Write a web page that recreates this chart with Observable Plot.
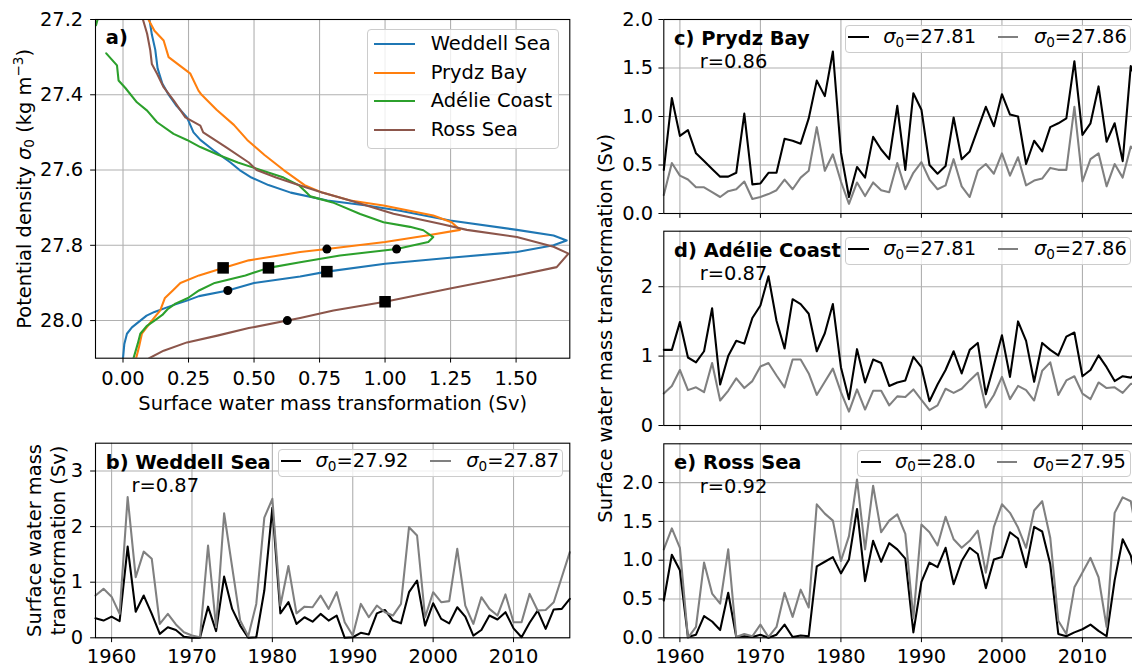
<!DOCTYPE html>
<html>
<head>
<meta charset="utf-8">
<script src="https://cdn.jsdelivr.net/npm/d3@7"></script>
<script src="https://cdn.jsdelivr.net/npm/@observablehq/plot@0.6"></script>
<style>
html, body { margin: 0; padding: 0; background: #fff; overflow: hidden; }
#fig { position: relative; width: 1132px; height: 667px; overflow: hidden; font-family: "DejaVu Sans"; }
#fig svg { position: absolute; left: 0; top: 0; }
.lg { position: absolute; box-sizing: border-box; background: rgba(255,255,255,0.8); border: 1px solid #cccccc; border-radius: 4px; font: 19.44px "DejaVu Sans"; color: #000; }
.lg .sw { position: absolute; height: 2px; }
.lg .tx { position: absolute; white-space: nowrap; line-height: 22px; height: 22px; }
.sub { font-size: 0.7em; position: relative; top: 0.24em; }
</style>
</head>
<body>
<div id="fig"></div>
<script>
// ---------- data ----------
const years = [1958,1959,1960,1961,1962,1963,1964,1965,1966,1967,
  1968,1969,1970,1971,1972,1973,1974,1975,1976,1977,
  1978,1979,1980,1981,1982,1983,1984,1985,1986,1987,
  1988,1989,1990,1991,1992,1993,1994,1995,1996,1997,
  1998,1999,2000,2001,2002,2003,2004,2005,2006,2007,
  2008,2009,2010,2011,2012,2013,2014,2015,2016,2017];

// b) Weddell Sea
const weddell2792 = [0.35,0.31,0.38,0.30,1.64,0.47,0.76,0.43,0.07,0.19,
  0.14,0.02,0.00,0.00,0.56,0.12,1.10,0.52,0.22,0.00,
  0.01,0.85,2.34,0.44,0.64,0.25,0.37,0.29,0.43,0.31,
  0.40,0.00,0.01,0.09,0.06,0.44,0.50,0.31,0.26,0.82,
  1.03,0.22,0.62,0.34,0.26,0.55,0.38,0.04,0.14,0.40,
  0.33,0.46,0.17,0.01,0.27,0.49,0.16,0.51,0.52,0.70];
const weddell2787 = [0.76,0.88,0.74,0.43,2.53,1.09,1.55,1.42,0.25,0.43,
  0.24,0.10,0.04,0.01,1.66,0.19,2.24,1.27,0.31,0.03,
  0.61,2.16,2.50,0.58,1.29,0.44,0.56,0.55,0.76,0.52,
  0.82,0.28,0.04,0.61,0.37,0.58,0.46,0.40,0.61,1.99,
  1.84,0.37,0.82,0.64,0.66,1.60,0.58,0.25,0.73,0.52,
  0.40,0.78,0.28,0.28,0.79,0.49,0.50,0.64,1.09,1.54];
// c) Prydz Bay
const prydz2781 = [0.45,1.19,0.80,0.86,0.62,0.54,0.46,0.38,0.38,0.42,
  1.03,0.30,0.31,0.42,0.42,0.77,0.75,0.72,0.98,1.37,
  1.21,1.67,0.63,0.17,0.48,0.37,0.79,0.66,0.56,1.11,
  0.45,1.24,1.07,0.50,0.41,0.49,0.99,0.56,0.64,0.87,
  1.10,0.90,1.23,1.02,1.00,0.51,0.75,0.64,0.89,0.93,
  0.98,1.57,0.81,0.93,1.31,0.74,0.93,0.54,1.52,1.30];
const prydz2786 = [0.19,0.52,0.39,0.35,0.27,0.27,0.22,0.17,0.23,0.25,
  0.33,0.15,0.17,0.20,0.24,0.35,0.25,0.37,0.44,0.89,
  0.44,0.61,0.33,0.10,0.32,0.18,0.32,0.24,0.22,0.52,
  0.25,0.42,0.53,0.35,0.25,0.29,0.56,0.28,0.17,0.44,
  0.51,0.41,0.62,0.39,0.58,0.29,0.34,0.36,0.47,0.45,
  0.45,1.10,0.33,0.56,0.62,0.28,0.51,0.37,0.69,0.60];
// d) Adélie Coast
const adelie2781 = [1.09,1.09,1.49,0.98,0.91,1.07,1.69,0.59,1.00,1.22,
  1.18,1.55,1.73,2.15,1.51,1.11,1.82,1.75,1.61,1.07,
  1.33,1.75,0.84,0.38,1.10,0.62,0.95,0.90,0.57,0.62,
  0.65,0.99,0.84,0.35,0.59,0.80,1.07,0.75,1.09,1.19,
  0.45,0.87,1.30,0.70,1.50,1.22,0.63,1.19,1.09,1.01,
  1.28,1.34,0.71,0.80,1.01,0.84,0.64,0.71,0.69,0.77];
const adelie2786 = [0.46,0.57,0.80,0.51,0.55,0.48,0.90,0.36,0.50,0.68,
  0.54,0.64,0.85,0.90,0.72,0.55,0.95,0.95,0.75,0.44,
  0.63,0.82,0.48,0.20,0.52,0.23,0.50,0.50,0.29,0.42,
  0.41,0.52,0.37,0.22,0.29,0.53,0.47,0.53,0.65,0.76,
  0.26,0.44,0.70,0.38,0.57,0.51,0.36,0.79,0.91,0.44,
  0.65,0.71,0.46,0.38,0.62,0.54,0.55,0.47,0.60,0.60];
// e) Ross Sea
const ross2800 = [0.48,1.07,0.87,0.01,0.04,0.28,0.21,0.10,0.58,0.01,
  0.02,0.01,0.04,0.00,0.04,0.17,0.01,0.03,0.02,0.92,
  0.98,1.04,0.83,1.01,1.66,0.73,1.25,0.98,1.22,1.14,
  1.02,0.07,0.72,0.97,0.91,1.16,0.69,0.99,1.16,1.08,
  0.64,1.01,1.04,1.36,1.28,0.91,1.43,1.37,0.95,0.05,
  0.02,0.07,0.11,0.17,0.09,0.02,0.74,1.27,1.06,0.60];
const ross2795 = [1.14,1.41,1.16,0.00,0.14,0.97,0.57,0.44,1.14,0.01,
  0.05,0.02,0.17,0.01,0.14,0.58,0.27,0.62,0.39,1.72,
  1.60,1.51,0.99,1.31,2.04,1.14,1.96,1.36,1.51,1.59,
  1.34,0.25,1.46,1.36,1.19,1.56,1.27,1.16,1.25,1.38,
  0.84,1.43,1.72,1.61,1.42,1.16,1.64,1.76,1.29,0.22,
  0.05,0.65,0.84,1.03,0.78,0.14,1.61,1.81,1.76,1.20];

// a) profiles: [transformation (Sv), sigma0]
const profileWeddell = [[0.101,27.20],[0.110,27.24],[0.123,27.28],[0.132,27.33],[0.150,27.37],[0.174,27.40],[0.205,27.43],[0.244,27.46],[0.269,27.50],[0.295,27.52],[0.35,27.55],[0.41,27.58],[0.445,27.60],[0.49,27.62],[0.555,27.64],[0.64,27.66],[0.78,27.681],[0.93,27.694],[1.057,27.708],[1.248,27.734],[1.503,27.759],[1.643,27.774],[1.693,27.787],[1.643,27.80],[1.503,27.818],[1.248,27.833],[1.0,27.849],[0.778,27.87],[0.676,27.883],[0.50,27.90],[0.40,27.92],[0.29,27.935],[0.244,27.947],[0.20,27.957],[0.168,27.965],[0.12,27.977],[0.09,27.987],[0.066,28.0],[0.034,28.018],[0.015,28.035],[0.005,28.062],[0.0,28.10]];
const profilePrydz = [[0.097,27.20],[0.12,27.23],[0.155,27.256],[0.174,27.30],[0.257,27.344],[0.288,27.389],[0.30,27.40],[0.357,27.44],[0.423,27.48],[0.474,27.52],[0.54,27.56],[0.613,27.60],[0.693,27.64],[0.76,27.66],[0.867,27.681],[0.994,27.694],[1.184,27.721],[1.254,27.739],[1.286,27.759],[1.159,27.774],[1.0,27.791],[0.778,27.81],[0.676,27.818],[0.48,27.84],[0.382,27.86],[0.29,27.88],[0.219,27.90],[0.19,27.92],[0.16,27.94],[0.142,27.973],[0.11,28.0],[0.072,28.035],[0.061,28.07],[0.05,28.10]];
const profileAdelie = [[-0.097,27.20],[-0.103,27.215],[-0.13,27.23],[null,null],[-0.064,27.29],[-0.023,27.322],[-0.017,27.362],[0.009,27.382],[0.053,27.42],[0.092,27.442],[0.13,27.473],[0.193,27.504],[0.244,27.52],[0.295,27.539],[0.365,27.56],[0.438,27.58],[0.525,27.60],[0.613,27.62],[0.67,27.64],[0.70,27.66],[0.715,27.67],[0.80,27.686],[0.905,27.717],[0.994,27.739],[1.095,27.751],[1.146,27.76],[1.184,27.778],[1.165,27.791],[1.044,27.81],[0.828,27.827],[0.676,27.845],[0.555,27.86],[0.467,27.88],[0.35,27.90],[0.29,27.92],[0.248,27.94],[0.20,27.955],[0.17,27.97],[0.15,27.985],[0.12,28.0],[0.09,28.015],[0.066,28.035],[0.056,28.062],[0.04,28.10]];
const profileRoss = [[0.076,27.20],[0.092,27.238],[0.104,27.282],[0.11,27.318],[0.13,27.344],[0.155,27.38],[0.193,27.415],[0.238,27.46],[0.295,27.482],[0.306,27.50],[0.394,27.54],[0.48,27.58],[0.51,27.60],[0.584,27.62],[0.67,27.64],[0.76,27.66],[0.867,27.681],[1.032,27.716],[1.21,27.743],[1.312,27.759],[1.503,27.778],[1.643,27.804],[1.70,27.822],[1.655,27.858],[1.503,27.88],[1.248,27.915],[1.0,27.95],[0.803,27.973],[0.676,27.993],[0.627,28.0],[0.48,28.02],[0.36,28.04],[0.244,28.058],[0.155,28.08],[0.10,28.10]];
const squareMarkers = [[0.382,27.86],[0.555,27.86],[0.778,27.87],[1.0,27.95]];
const circleMarkers = [[0.778,27.81],[1.044,27.81],[0.40,27.92],[0.627,28.0]];

const regionNames = ["Weddell Sea","Prydz Bay","Adélie Coast","Ross Sea"];
const regionColors = ["#1f77b4","#ff7f0e","#2ca02c","#8c564b"];

const svTicksA = [0,0.25,0.5,0.75,1.0,1.25,1.5];
const sigmaTicksA = [27.2,27.4,27.6,27.8,28.0];
const yearTicks = [1960,1970,1980,1990,2000,2010];

// ---------- helpers ----------
const W = 1140, H = 667, FS = 19.44;
const fig = document.getElementById("fig");
const gridStyle = {stroke: "#b0b0b0", strokeOpacity: 1, strokeWidth: 1.1};

function panel(o) {
  const svg = Plot.plot({
    width: W, height: H,
    marginLeft: o.left, marginRight: W - o.right, marginTop: o.top, marginBottom: H - o.bottom,
    style: {background: "transparent", fontFamily: "DejaVu Sans", fontSize: FS + "px", maxWidth: "none", overflow: "visible"},
    x: o.x, y: o.y,
    marks: o.marks
  });
  fig.appendChild(svg);
  return svg;
}
function axes(xTicks, xFmt, xPad, yTicks, yFmt, yPad) {
  return [
    Plot.axisX({ticks: xTicks, tickFormat: xFmt, tickSize: 4.86, tickPadding: xPad, fontSize: FS, label: null}),
    Plot.axisY({ticks: yTicks, tickFormat: yFmt, tickSize: 4.86, tickPadding: yPad, fontSize: FS, label: null})
  ];
}
function corner(txt, dx, dy, bold) {
  return Plot.text([txt], {text: d => d, frameAnchor: "top-left", textAnchor: "start", lineAnchor: "bottom",
    dx, dy, fontSize: FS, fontWeight: bold ? "bold" : "normal", fill: "black"});
}
const yearFmt = d => String(d);
const noFmt = () => "";

// ---------- panel a ----------
const profiles = [profileWeddell, profilePrydz, profileAdelie, profileRoss];
panel({
  left: 95, right: 569.3, top: 19, bottom: 357.7,
  x: {domain: [-0.105, 1.705]},
  y: {domain: [27.2, 28.1], reverse: true},
  marks: [
    Plot.gridX({ticks: svTicksA, ...gridStyle}),
    Plot.gridY({ticks: sigmaTicksA, ...gridStyle}),
    ...profiles.map((p, i) => Plot.line(p, {x: d => d[0], y: d => d[1], stroke: regionColors[i], strokeWidth: 2.08, strokeLinejoin: "round", clip: true})),
    Plot.dot(squareMarkers, {x: d => d[0], y: d => d[1], symbol: "square", r: 6.5, fill: "black", stroke: null}),
    Plot.dot(circleMarkers, {x: d => d[0], y: d => d[1], r: 4.5, fill: "black", stroke: null}),
    Plot.frame({stroke: "black", strokeWidth: 1.1}),
    ...axes(svTicksA, d3.format(".2f"), 8.3, sigmaTicksA, d3.format(".1f"), 7.4),
    corner("a)", 10.3, 24.5, true),
    Plot.text(["Surface water mass transformation (Sv)"], {text: d => d, frameAnchor: "bottom", lineAnchor: "bottom", dy: 51.3, fontSize: FS}),
    Plot.text(["Potential density σ0 (kg m−3)"], {text: d => d, frameAnchor: "left", rotate: -90, textAnchor: "middle", lineAnchor: "bottom", dx: -65, fontSize: FS})
  ]
});

// ---------- time series panels ----------
function series(o) {
  return panel({
    left: o.left, right: o.right, top: o.top, bottom: o.bottom,
    x: {domain: [1958, 2017]},
    y: {domain: o.yDomain},
    marks: [
      Plot.gridX({ticks: yearTicks, ...gridStyle}),
      Plot.gridY({ticks: o.yTicks, ...gridStyle}),
      Plot.lineY(o.deep, {x: years, stroke: "black", strokeWidth: 2.08, strokeLinejoin: "round"}),
      Plot.lineY(o.light, {x: years, stroke: "gray", strokeWidth: 2.08, strokeLinejoin: "round"}),
      Plot.frame({stroke: "black", strokeWidth: 1.1}),
      ...axes(yearTicks, o.showYears ? yearFmt : noFmt, 6.3, o.yTicks, o.yFmt, o.yPad),
      corner(o.title, 10.3, 25.3, true),
      corner(o.r, 36, 48.7, false),
      ...(o.extra || [])
    ]
  });
}

series({left: 95, right: 569.3, top: 442.7, bottom: 637.3, yDomain: [0, 3.5], yTicks: [0,1,2,3], yFmt: d3.format("d"), yPad: 7.4,
  deep: weddell2792, light: weddell2787, showYears: true, title: "b) Weddell Sea", r: "r=0.87",
  extra: [Plot.text(["Surface water mass\ntransformation (Sv)"], {text: d => d, frameAnchor: "left", rotate: -90, textAnchor: "middle", lineAnchor: "middle", lineHeight: 1.22, dx: -50.3, fontSize: FS})]});

series({left: 663.3, right: 1138.3, top: 19, bottom: 213, yDomain: [0, 2.0], yTicks: [0,0.5,1.0,1.5,2.0], yFmt: d3.format(".1f"), yPad: 5.8,
  deep: prydz2781, light: prydz2786, showYears: false, title: "c) Prydz Bay", r: "r=0.86"});

series({left: 663.3, right: 1138.3, top: 230.7, bottom: 425, yDomain: [0, 2.8], yTicks: [0,1,2], yFmt: d3.format("d"), yPad: 5.8,
  deep: adelie2781, light: adelie2786, showYears: false, title: "d) Adélie Coast", r: "r=0.87",
  extra: [Plot.text(["Surface water mass transformation (Sv)"], {text: d => d, frameAnchor: "left", rotate: -90, textAnchor: "middle", lineAnchor: "bottom", dx: -51.8, fontSize: FS})]});

series({left: 663.3, right: 1138.3, top: 443.3, bottom: 637.3, yDomain: [0, 2.5], yTicks: [0,0.5,1.0,1.5,2.0], yFmt: d3.format(".1f"), yPad: 5.8,
  deep: ross2800, light: ross2795, showYears: true, title: "e) Ross Sea", r: "r=0.92"});

// math formatting of the density label
fig.querySelectorAll("text").forEach(t => {
  if (t.textContent === "Potential density σ0 (kg m−3)") {
    t.innerHTML = 'Potential density <tspan font-style="italic">σ</tspan><tspan font-size="13.6px" dy="3.8">0</tspan><tspan dy="-3.8"> (kg m</tspan><tspan font-size="13.6px" dy="-7.8">−3</tspan><tspan dy="7.8">)</tspan>';
  }
});

// ---------- legends ----------
function addLegend(box, items) {
  const div = document.createElement("div");
  div.className = "lg";
  div.style.left = box.left + "px"; div.style.top = box.top + "px";
  div.style.width = box.width + "px"; div.style.height = box.height + "px";
  for (const it of items) {
    const sw = document.createElement("span");
    sw.className = "sw";
    sw.style.left = (it.sx - box.left - 1) + "px";
    sw.style.width = it.sw + "px";
    sw.style.top = (it.cy - box.top - 1 - 1) + "px";
    sw.style.background = it.color;
    div.appendChild(sw);
    const tx = document.createElement("span");
    tx.className = "tx";
    tx.style.left = (it.tx - box.left - 1) + "px";
    tx.style.top = (it.cy - box.top - 1 - 11) + "px";
    tx.innerHTML = it.label;
    div.appendChild(tx);
  }
  fig.appendChild(div);
}
const sig = v => '<i>σ</i><span class="sub">0</span>=' + v;

addLegend({left: 367.4, top: 29.3, width: 192, height: 119.7},
  regionNames.map((n, i) => ({sx: 374.3, sw: 41, tx: 430.7, cy: 44.3 + 28.6 * i, color: regionColors[i], label: n})));

function pairLegend(left, top, width, a, b, offs) {
  const cy = top + 27.5 / 2 - 1.5;
  addLegend({left, top, width, height: 27.5}, [
    {sx: left + offs[0], sw: 20.5, tx: left + offs[1], cy, color: "black", label: sig(a)},
    {sx: left + offs[2], sw: 20.5, tx: left + offs[3], cy, color: "gray", label: sig(b)}
  ]);
}
pairLegend(277.5, 449, 285.8, "27.92", "27.87", [3.3, 38, 152.7, 188.7]);
pairLegend(845.2, 25, 285.8, "27.81", "27.86", [3.3, 38, 152.7, 188.7]);
pairLegend(845.2, 237, 285.8, "27.81", "27.86", [3.3, 38, 152.7, 188.7]);
pairLegend(857.2, 449.5, 273.8, "28.0", "27.95", [3.5, 37.8, 139.8, 175.8]);
</script>
</body>
</html>
